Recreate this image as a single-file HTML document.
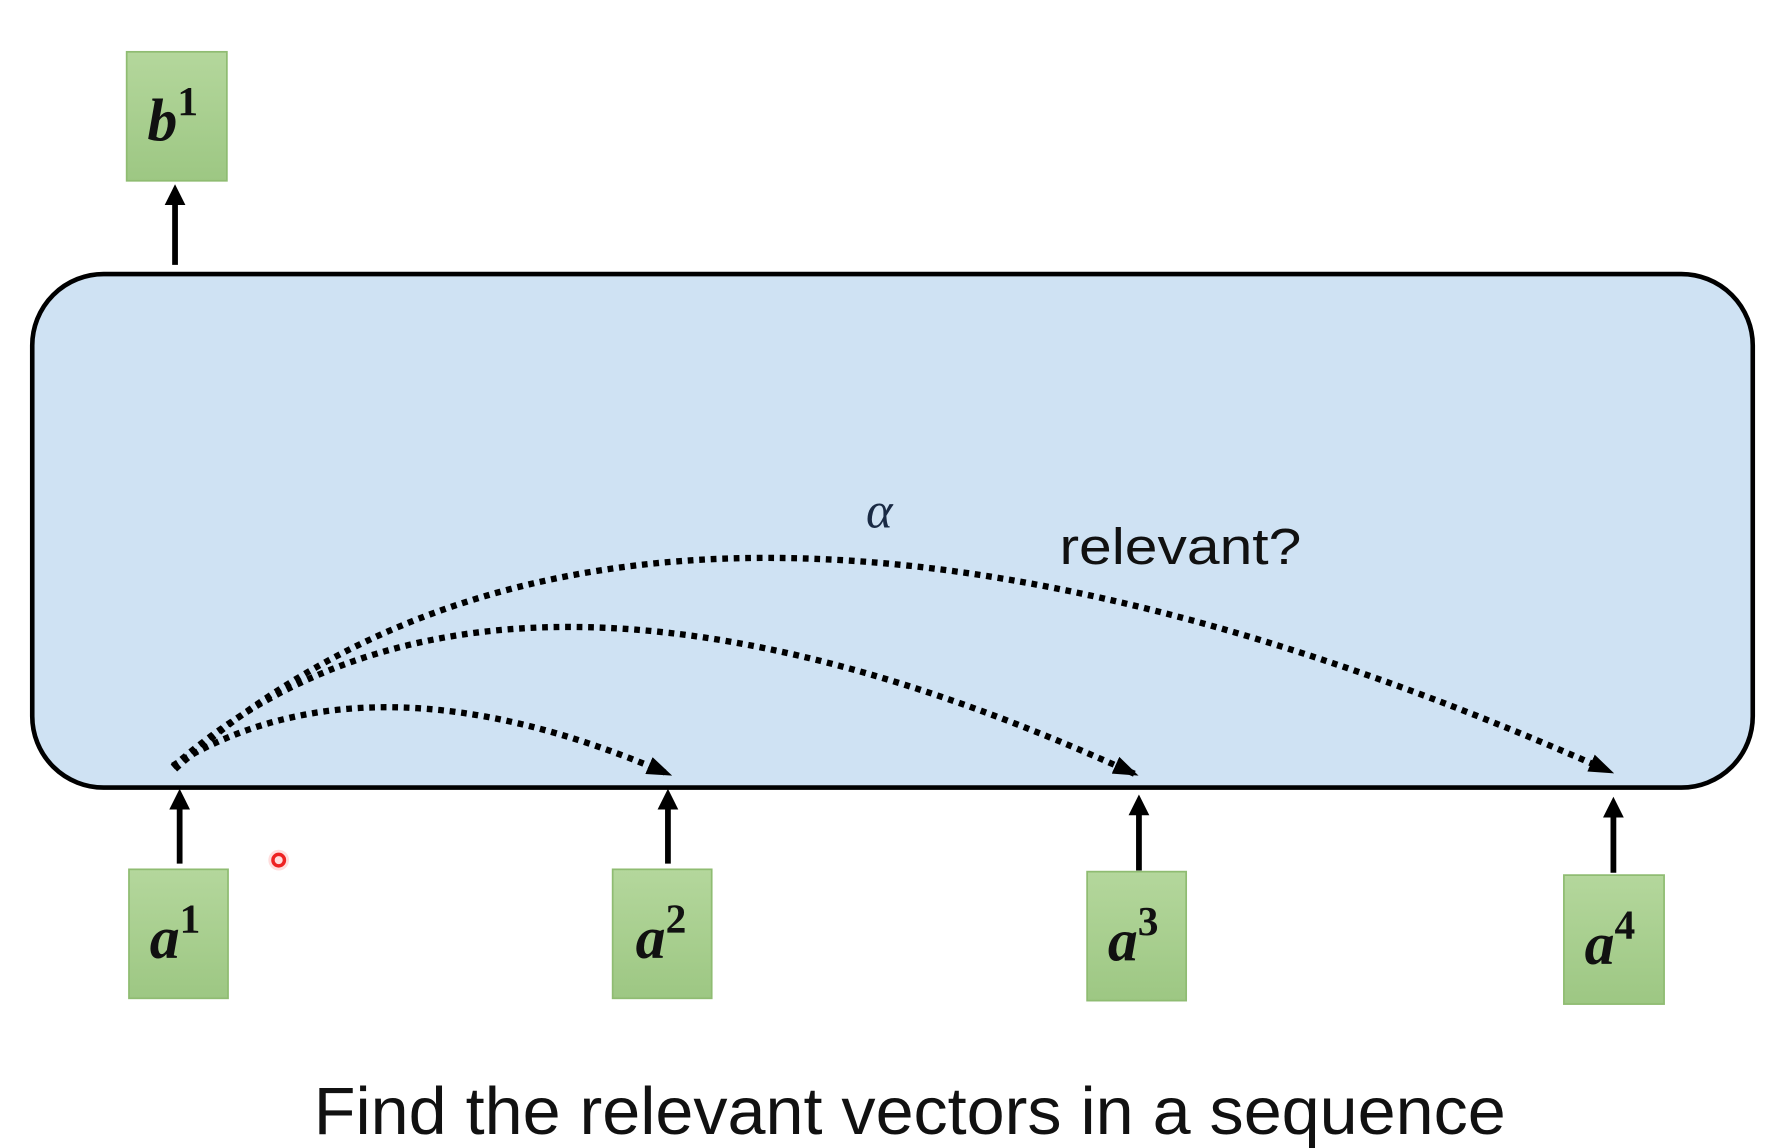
<!DOCTYPE html>
<html><head><meta charset="utf-8"><style>
html,body{margin:0;padding:0;background:#fff;}
svg{display:block;}
</style></head><body>
<svg width="1785" height="1148" viewBox="0 0 1550 997" preserveAspectRatio="none" xmlns="http://www.w3.org/2000/svg">
<defs>
<linearGradient id="g" x1="0" y1="0" x2="0" y2="1"><stop offset="0" stop-color="#b4d79c"/><stop offset="1" stop-color="#9dc783"/></linearGradient>
<marker id="ad" markerWidth="22" markerHeight="16" refX="18" refY="8" orient="auto" markerUnits="userSpaceOnUse"><path d="M0,0 L22,8 L0,16 z" fill="#000"/></marker>
</defs>
<rect x="28" y="238" width="1494" height="446" rx="62" fill="#cfe2f3" stroke="#000" stroke-width="4"/>
<g fill="url(#g)" stroke="#8fbc72" stroke-width="1.5">
<rect x="110" y="45" width="87" height="112"/>
<rect x="112" y="755" width="86" height="112"/>
<rect x="532" y="755" width="86" height="112"/>
<rect x="944" y="757" width="86" height="112"/>
<rect x="1358" y="760" width="87" height="112"/>
</g>
<g font-family="'Liberation Serif',serif" font-style="italic" font-weight="bold" fill="#111">
<text x="128" y="122" font-size="52">b<tspan font-size="36" dy="-22" font-style="normal">1</tspan></text>
<text x="130" y="832" font-size="52">a<tspan font-size="36" dy="-22" font-style="normal">1</tspan></text>
<text x="552" y="832" font-size="52">a<tspan font-size="36" dy="-22" font-style="normal">2</tspan></text>
<text x="962" y="834" font-size="52">a<tspan font-size="36" dy="-22" font-style="normal">3</tspan></text>
<text x="1376" y="837" font-size="52">a<tspan font-size="36" dy="-22" font-style="normal">4</tspan></text>
</g>
<g stroke="#000" stroke-width="5" fill="none">
<line x1="152" y1="230" x2="152" y2="172"/>
<line x1="156" y1="750" x2="156" y2="697"/>
<line x1="580" y1="750" x2="580" y2="697"/>
<line x1="989" y1="756" x2="989" y2="702"/>
<line x1="1401" y1="758" x2="1401" y2="704"/>
</g>
<g fill="#000">
<path d="M152,160 L143,178 L161,178 z"/>
<path d="M156,685 L147,703 L165,703 z"/>
<path d="M580,685 L571,703 L589,703 z"/>
<path d="M989,690 L980,708 L998,708 z"/>
<path d="M1401,692 L1392,710 L1410,710 z"/>
</g>
<g stroke="#000" stroke-width="5.5" stroke-dasharray="5 5" fill="none">
<path d="M150,665 Q320,560 580,672" marker-end="url(#ad)"/>
<path d="M150,666 Q430,420 985,672" marker-end="url(#ad)"/>
<path d="M152,668 Q560,300 1398,670" marker-end="url(#ad)"/>
</g>
<text x="752" y="458" font-family="'Liberation Serif',serif" font-style="italic" font-size="44" fill="#1a2a44">α</text>
<text x="920" y="490" font-family="'Liberation Sans',sans-serif" font-size="44" fill="#111" textLength="210" lengthAdjust="spacingAndGlyphs">relevant?</text>
<circle cx="242" cy="747" r="9" fill="#ffd0d0" opacity="0.7"/>
<circle cx="242" cy="747" r="5" fill="none" stroke="#e22" stroke-width="3"/>
<text x="790" y="985" text-anchor="middle" font-family="'Liberation Sans',sans-serif" font-size="58" fill="#111" textLength="1035" lengthAdjust="spacingAndGlyphs">Find the relevant vectors in a sequence</text>
</svg>
</body></html>
